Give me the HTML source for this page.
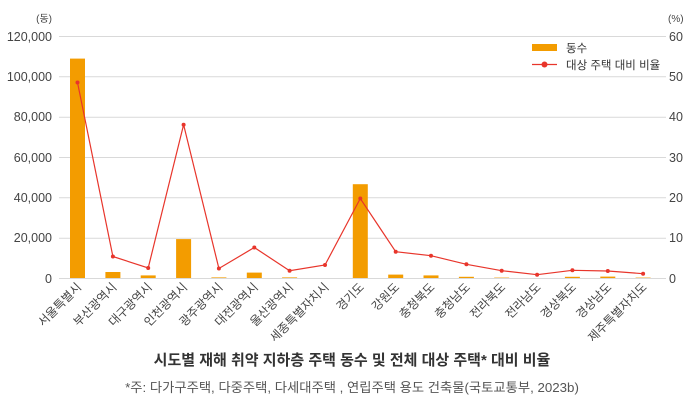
<!DOCTYPE html>
<html><head><meta charset="utf-8"><style>
body{margin:0;background:#fff}
svg{display:block;font-family:"Liberation Sans","Noto Sans CJK KR",sans-serif}
</style></head><body>
<svg width="700" height="412" viewBox="0 0 700 412">
<g stroke="#d9d9d9" stroke-width="1">
<line x1="59" x2="666" y1="36.5" y2="36.5"/><line x1="59" x2="666" y1="76.8" y2="76.8"/>
<line x1="59" x2="666" y1="117.2" y2="117.2"/><line x1="59" x2="666" y1="157.5" y2="157.5"/>
<line x1="59" x2="666" y1="197.8" y2="197.8"/><line x1="59" x2="666" y1="238.2" y2="238.2"/>
<line x1="59" x2="666" y1="278.5" y2="278.5"/>
</g>
<g font-size="12.5" fill="#444" text-anchor="end">
<text x="52" y="41">120,000</text><text x="52" y="81">100,000</text><text x="52" y="121">80,000</text>
<text x="52" y="162">60,000</text><text x="52" y="202">40,000</text><text x="52" y="242">20,000</text><text x="52" y="283">0</text>
<text x="52" y="22" font-size="10">(동)</text>
</g>
<g font-size="12.5" fill="#444" text-anchor="start">
<text x="669" y="41">60</text><text x="669" y="81">50</text><text x="669" y="121">40</text>
<text x="669" y="162">30</text><text x="669" y="202">20</text><text x="669" y="242">10</text><text x="669" y="283">0</text>
<text x="668" y="22" font-size="10">(%)</text>
</g>
<g fill="#f39c00">
<rect x="70" y="58.6" width="15" height="219.4"/>
<rect x="105.4" y="272" width="15" height="6"/>
<rect x="140.7" y="275.4" width="15" height="2.6"/>
<rect x="176.1" y="239.1" width="15" height="38.9"/>
<rect x="211.4" y="277.4" width="15" height="0.6"/>
<rect x="246.8" y="272.6" width="15" height="5.4"/>
<rect x="282.1" y="277.4" width="15" height="0.6"/>
<rect x="352.8" y="184.2" width="15" height="93.8"/>
<rect x="388.2" y="274.6" width="15" height="3.4"/>
<rect x="423.5" y="275.4" width="15" height="2.6"/>
<rect x="458.9" y="276.8" width="15" height="1.2"/>
<rect x="494.2" y="277.6" width="15" height="0.4"/>
<rect x="564.9" y="276.8" width="15" height="1.2"/>
<rect x="600.3" y="276.6" width="15" height="1.4"/>
<rect x="635.6" y="277.6" width="15" height="0.4"/>
</g>
<polyline fill="none" stroke="#e8352b" stroke-width="1.2" points="77.5,82.5 112.9,256.5 148.2,268 183.6,124.7 218.9,268.5 254.3,247.5 289.6,270.7 325,265 360.3,198.5 395.7,251.7 431,255.7 466.4,264.3 501.7,270.7 537.1,274.7 572.4,270.3 607.8,271 643.1,273.7"/>
<g fill="#e8352b">
<circle cx="77.5" cy="82.5" r="2"/><circle cx="112.9" cy="256.5" r="2"/><circle cx="148.2" cy="268" r="2"/>
<circle cx="183.6" cy="124.7" r="2"/><circle cx="218.9" cy="268.5" r="2"/><circle cx="254.3" cy="247.5" r="2"/>
<circle cx="289.6" cy="270.7" r="2"/><circle cx="325" cy="265" r="2"/><circle cx="360.3" cy="198.5" r="2"/>
<circle cx="395.7" cy="251.7" r="2"/><circle cx="431" cy="255.7" r="2"/><circle cx="466.4" cy="264.3" r="2"/>
<circle cx="501.7" cy="270.7" r="2"/><circle cx="537.1" cy="274.7" r="2"/><circle cx="572.4" cy="270.3" r="2"/>
<circle cx="607.8" cy="271" r="2"/><circle cx="643.1" cy="273.7" r="2"/>
</g>
<rect x="532" y="44" width="25" height="7" fill="#f39c00"/>
<line x1="532" x2="557" y1="64.5" y2="64.5" stroke="#e8352b" stroke-width="1.2"/>
<circle cx="544.5" cy="64.5" r="3" fill="#e8352b"/>
<g font-size="11.5" fill="#333">
<text x="566" y="52">동수</text><text x="566" y="69">대상 주택 대비 비율</text>
</g>
<g font-size="12" fill="#444" text-anchor="end">
<text transform="translate(82,288) rotate(-45)">서울특별시</text>
<text transform="translate(117.4,288) rotate(-45)">부산광역시</text>
<text transform="translate(152.7,288) rotate(-45)">대구광역시</text>
<text transform="translate(188.1,288) rotate(-45)">인천광역시</text>
<text transform="translate(223.4,288) rotate(-45)">광주광역시</text>
<text transform="translate(258.8,288) rotate(-45)">대전광역시</text>
<text transform="translate(294.1,288) rotate(-45)">울산광역시</text>
<text transform="translate(329.5,288) rotate(-45)">세종특별자치시</text>
<text transform="translate(364.8,288) rotate(-45)">경기도</text>
<text transform="translate(400.2,288) rotate(-45)">강원도</text>
<text transform="translate(435.5,288) rotate(-45)">충청북도</text>
<text transform="translate(470.9,288) rotate(-45)">충청남도</text>
<text transform="translate(506.2,288) rotate(-45)">전라북도</text>
<text transform="translate(541.6,288) rotate(-45)">전라남도</text>
<text transform="translate(576.9,288) rotate(-45)">경상북도</text>
<text transform="translate(612.3,288) rotate(-45)">경상남도</text>
<text transform="translate(647.6,288) rotate(-45)">제주특별자치도</text>
</g>
<text x="352" y="365" font-size="15" font-weight="bold" fill="#333" text-anchor="middle">시도별 재해 취약 지하층 주택 동수 및 전체 대상 주택* 대비 비율</text>
<text x="352" y="392" font-size="13.3" fill="#555" text-anchor="middle">*주: 다가구주택, 다중주택, 다세대주택 , 연립주택 용도 건축물(국토교통부, 2023b)</text>
</svg>
</body></html>
